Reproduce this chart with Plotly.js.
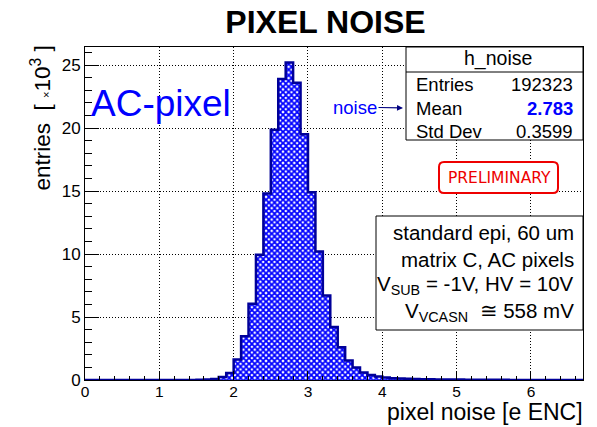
<!DOCTYPE html>
<html>
<head>
<meta charset="utf-8">
<script src="https://cdn.plot.ly/plotly-3.0.1.min.js"></script>
<style>html,body{margin:0;padding:0;background:#fff;}#chart{width:597px;height:427px;}</style>
</head>
<body>
<div id="chart"></div>
<script>
// histogram bins: lower edges (e ENC) and counts (x10^3 entries)
const binLow = [0.0,0.1,0.2,0.3,0.4,0.5,0.6,0.7,0.8,0.9,
  1.0,1.1,1.2,1.3,1.4,1.5,1.6,1.7,1.8,1.9,
  2.0,2.1,2.2,2.3,2.4,2.5,2.6,2.7,2.8,2.9,
  3.0,3.1,3.2,3.3,3.4,3.5,3.6,3.7,3.8,3.9,
  4.0,4.1,4.2,4.3,4.4,4.5,4.6,4.7,4.8,4.9,
  5.0,5.1,5.2,5.3,5.4,5.5,5.6,5.7,5.8,5.9,
  6.0,6.1,6.2,6.3,6.4,6.5,6.6];
const binWidth = 0.1;
const counts = [0,0,0,0,0,0,0,0,0,0,
  0,0,0,0,0,0.01,0.03,0.08,0.24,0.55,
  1.62,3.47,6.06,9.95,14.8,19.87,23.9,25.2,23.6,19.5,
  14.9,10.2,6.7,4.2,2.6,1.55,1.0,0.6,0.4,0.28,
  0.2,0.14,0.11,0.09,0.07,0.06,0.05,0.04,0.04,0.03,
  0.03,0.02,0.02,0.02,0.01,0.01,0.01,0,0,0,
  0,0,0,0,0,0,0];

const statLabels = ["Entries", "Mean", "Std Dev"];
const statValues = ["192323", "2.783", "0.3599"];
const infoLines = ["standard epi, 60 um", "matrix C, AC pixels",
  "V<sub>SUB</sub> = -1V, HV = 10V", "V<sub>VCASN</sub>  \u2245 558 mV"];

// step outline built from the bin arrays
const xs = [], ys = [];
for (let i = 0; i < binLow.length; i++) { xs.push(binLow[i]); ys.push(counts[i]); }
xs.push(binLow[binLow.length - 1] + binWidth); ys.push(counts[counts.length - 1]);

const FONT = "Liberation Sans, Arial, Helvetica, sans-serif";
const L = 85, R = 583, T = 47, B = 380;
const px = v => (v - L) / (R - L);
const py = v => (B - v) / (B - T);

const trace = {
  type: "scatter", mode: "lines", x: xs, y: ys,
  line: {shape: "hv", color: "#000099", width: 2.5},
  fill: "tozeroy", fillcolor: "rgba(0,0,0,0)",
  fillpattern: {shape: "x", fgcolor: "#0000ff", bgcolor: "#ffffff", size: 4, solidity: 0.7},
  hoverinfo: "skip", showlegend: false
};

const annotations = [];
annotations.push({xref: "paper", yref: "paper", x: px(89), y: py(103), xanchor: "left", yanchor: "middle",
  text: "AC-pixel", showarrow: false, font: {family: FONT, size: 37, color: "#0000ff"}});
annotations.push({xref: "paper", yref: "paper", x: px(403), y: py(108), ax: -48, ay: -1,
  text: "noise", showarrow: true, arrowhead: 2, arrowsize: 1, arrowwidth: 1.2, arrowcolor: "#000080",
  font: {family: FONT, size: 18.5, color: "#0000ff"}});
annotations.push({xref: "paper", yref: "paper", x: px(498), y: py(59), xanchor: "center", yanchor: "middle",
  text: "h_noise", showarrow: false, font: {family: FONT, size: 19.5, color: "#000"}});
const rowY = [84, 108, 131];
for (let i = 0; i < statLabels.length; i++) {
  annotations.push({xref: "paper", yref: "paper", x: px(414), y: py(rowY[i]), xanchor: "left", yanchor: "middle",
    text: statLabels[i], showarrow: false, font: {family: FONT, size: 18.5, color: "#000"}});
  annotations.push({xref: "paper", yref: "paper", x: px(575), y: py(rowY[i]), xanchor: "right", yanchor: "middle",
    text: i === 1 ? "<b>" + statValues[i] + "</b>" : statValues[i], showarrow: false,
    font: {family: FONT, size: 18.5, color: i === 1 ? "#0000ff" : "#000"}});
}
annotations.push({xref: "paper", yref: "paper", x: px(499), y: py(177.5), xanchor: "center", yanchor: "middle",
  text: "PRELIMINARY", showarrow: false, font: {family: "DejaVu Sans, sans-serif", size: 15.5, color: "#ee0000"}});
const infoY = [232, 259, 285, 312];
for (let i = 0; i < infoLines.length; i++) {
  annotations.push({xref: "paper", yref: "paper", x: px(576), y: py(infoY[i]), xanchor: "right", yanchor: "middle",
    text: infoLines[i], showarrow: false, font: {family: FONT, size: 20.5, color: "#000"}});
}
annotations.push({xref: "paper", yref: "paper", x: px(585), y: py(412), xanchor: "right", yanchor: "middle",
  text: "pixel noise [e ENC]", showarrow: false, font: {family: FONT, size: 23, color: "#000"}});
annotations.push({xref: "paper", yref: "paper", x: px(40), y: py(44), xanchor: "center", yanchor: "top",
  textangle: -90, text: "entries  [ <span style='font-size:11px'>\u00d7</span>10<sup>3</sup> ]", showarrow: false,
  font: {family: FONT, size: 22.5, color: "#000"}});

// rounded red box for PRELIMINARY
const bx0 = 439, bx1 = 558, by0 = 162, by1 = 193, r = 5;
const P = (x, y) => px(x) + "," + py(y);
const roundPath = "M" + P(bx0 + r, by0) + " L" + P(bx1 - r, by0) + " Q" + P(bx1, by0) + " " + P(bx1, by0 + r) +
  " L" + P(bx1, by1 - r) + " Q" + P(bx1, by1) + " " + P(bx1 - r, by1) +
  " L" + P(bx0 + r, by1) + " Q" + P(bx0, by1) + " " + P(bx0, by1 - r) +
  " L" + P(bx0, by0 + r) + " Q" + P(bx0, by0) + " " + P(bx0 + r, by0) + " Z";

const shapes = [
  {type: "rect", xref: "paper", yref: "paper", x0: px(406), x1: 1, y0: py(140), y1: 1,
    line: {color: "#000", width: 1}, fillcolor: "#fff", layer: "above"},
  {type: "line", xref: "paper", yref: "paper", x0: px(406), x1: 1, y0: py(72), y1: py(72),
    line: {color: "#000", width: 1}, layer: "above"},
  {type: "rect", xref: "paper", yref: "paper", x0: px(376), x1: 1, y0: py(330), y1: py(216),
    line: {color: "#000", width: 1}, fillcolor: "#fff", layer: "above"},
  {type: "path", xref: "paper", yref: "paper", path: roundPath,
    line: {color: "#ee0000", width: 2}, fillcolor: "#fff", layer: "above"}
];

const layout = {
  width: 597, height: 427,
  margin: {l: L, r: 597 - R, t: T, b: 427 - B, pad: 0},
  paper_bgcolor: "#fff", plot_bgcolor: "#fff",
  font: {family: FONT, color: "#000"},
  title: {text: "<b>PIXEL NOISE</b>", x: px(325.5), xref: "paper", xanchor: "center",
    y: 1 - 22 / 427, yref: "container", yanchor: "middle", font: {family: FONT, size: 32, color: "#000"}},
  xaxis: {range: [0, 6.7], tick0: 0, dtick: 1, ticks: "inside", ticklen: 9, tickwidth: 1, tickcolor: "#000",
    showline: true, mirror: true, linecolor: "#000", linewidth: 1, zeroline: false,
    showgrid: true, gridcolor: "#000", gridwidth: 1, griddash: "1px,2px",
    minor: {dtick: 0.2, ticks: "inside", ticklen: 4.5, tickcolor: "#000", showgrid: false},
    tickfont: {family: FONT, size: 15.5, color: "#000"}, ticklabelstandoff: -3, fixedrange: true},
  yaxis: {range: [0, 26.43], tick0: 0, dtick: 5, ticks: "inside", ticklen: 14, tickwidth: 1, tickcolor: "#000",
    showline: true, mirror: true, linecolor: "#000", linewidth: 1, zeroline: false,
    showgrid: true, gridcolor: "#000", gridwidth: 1, griddash: "1px,2px",
    minor: {dtick: 1, ticks: "inside", ticklen: 7, tickcolor: "#000", showgrid: false},
    tickfont: {family: FONT, size: 17, color: "#000"}, fixedrange: true},
  annotations: annotations,
  shapes: shapes,
  showlegend: false
};

Plotly.newPlot("chart", [trace], layout, {staticPlot: true, displayModeBar: false});
</script>
</body>
</html>
